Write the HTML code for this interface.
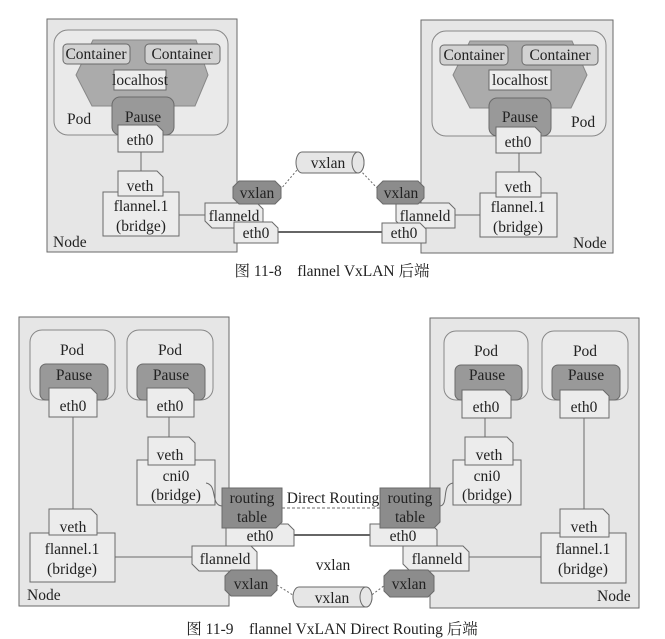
<!DOCTYPE html>
<html><head><meta charset="utf-8"><style>
html,body{margin:0;padding:0;background:#fff;}
svg{display:block;}
text{font-family:"Liberation Serif","Noto Serif CJK SC",serif;font-size:15.5px;fill:#222;}
</style></head><body>
<svg width="665" height="639" viewBox="0 0 665 639" xmlns="http://www.w3.org/2000/svg">
<g stroke="#6a6a6a" stroke-width="1">
<rect x="47" y="19" width="190" height="233" fill="#e6e6e6"/>
<rect x="54" y="30" width="174" height="105" rx="14" fill="#eaeaea" stroke="#888"/>
<polygon points="93,40 196,40 208,75 195,106 92,106 76,75" fill="#ababab" stroke="#888"/>
<rect x="63" y="44" width="67" height="20" rx="4" fill="#d2d2d2"/>
<rect x="145" y="44" width="75" height="20" rx="4" fill="#d2d2d2"/>
<rect x="114" y="70" width="52" height="20" fill="#ededed"/>
<rect x="112" y="97" width="62" height="38" rx="8" fill="#999"/>
<polygon points="118,125 157,125 163,131 163,152 118,152" fill="#ececec"/>
<line x1="141" y1="152" x2="141" y2="171"/>
<rect x="103" y="192" width="76" height="44" fill="#ececec"/>
<polygon points="118,171 157,171 163,177 163,196 118,196" fill="#ececec"/>
<line x1="179" y1="215" x2="205" y2="215"/>
<rect x="421" y="20" width="192" height="233" fill="#e6e6e6"/>
<rect x="432" y="31" width="174" height="105" rx="14" fill="#eaeaea" stroke="#888"/>
<polygon points="470,41 572,41 587,75 571,108 470,108 453,75" fill="#ababab" stroke="#888"/>
<rect x="440" y="45" width="68" height="20" rx="4" fill="#d2d2d2"/>
<rect x="522" y="45" width="76" height="20" rx="4" fill="#d2d2d2"/>
<rect x="489" y="70" width="62" height="20" fill="#ededed"/>
<rect x="489" y="98" width="62" height="38" rx="8" fill="#999"/>
<polygon points="496,127 535,127 541,133 541,153 496,153" fill="#ececec"/>
<line x1="519" y1="153" x2="519" y2="172"/>
<rect x="480" y="193" width="77" height="44" fill="#ececec"/>
<polygon points="496,172 535,172 541,178 541,197 496,197" fill="#ececec"/>
<line x1="455" y1="215" x2="480" y2="215"/>
<line x1="278" y1="232" x2="382" y2="232" stroke="#333" stroke-width="1.5"/>
<line x1="280" y1="190" x2="303" y2="163" stroke-dasharray="2,2"/>
<line x1="357" y1="167" x2="379" y2="190" stroke-dasharray="2,2"/>
<path d="M302,152 L358,152 A6,10.5 0 0 1 358,173 L302,173 A6,10.5 0 0 1 302,152 Z" fill="#e6e6e6"/>
<ellipse cx="358" cy="162.5" rx="6" ry="10.5" fill="#e6e6e6"/>
<polygon points="205,203 257,203 263,209 263,228 212,228 205,221" fill="#ececec"/>
<polygon points="239,181 275,181 281,187 281,198 275,204 239,204 233,198 233,187" fill="#8c8c8c"/>
<polygon points="234,222 272,222 278,228 278,243 234,243" fill="#ececec"/>
<polygon points="396,203 449,203 455,209 455,228 403,228 396,221" fill="#ececec"/>
<polygon points="383,181 418,181 424,187 424,198 418,204 383,204 377,198 377,187" fill="#8c8c8c"/>
<polygon points="382,223 420,223 426,229 426,243 382,243" fill="#ececec"/>

<rect x="19" y="317" width="210" height="289" fill="#e6e6e6"/>
<rect x="30" y="330" width="85" height="70" rx="12" fill="#eaeaea" stroke="#888"/>
<rect x="127" y="330" width="86" height="70" rx="12" fill="#eaeaea" stroke="#888"/>
<rect x="40" y="364" width="68" height="36" rx="6" fill="#999"/>
<rect x="137" y="364" width="68" height="36" rx="6" fill="#999"/>
<polygon points="49,388 91,388 97,394 97,417 49,417" fill="#ececec"/>
<polygon points="147,388 188,388 194,394 194,417 147,417" fill="#ececec"/>
<line x1="73" y1="417" x2="73" y2="510"/>
<line x1="169" y1="417" x2="169" y2="437"/>
<rect x="137" y="460" width="78" height="45" fill="#ececec"/>
<polygon points="148,437 189,437 195,443 195,465 148,465" fill="#ececec"/>
<rect x="30" y="533" width="85" height="49" fill="#ececec"/>
<polygon points="49,509 91,509 97,515 97,535 49,535" fill="#ececec"/>
<line x1="115" y1="557" x2="192" y2="557"/>
<path d="M206,483 C218,485 210,505 222,506" fill="none"/>

<rect x="430" y="318" width="209" height="290" fill="#e6e6e6"/>
<rect x="444" y="331" width="84" height="69" rx="12" fill="#eaeaea" stroke="#888"/>
<rect x="542" y="331" width="86" height="69" rx="12" fill="#eaeaea" stroke="#888"/>
<rect x="455" y="365" width="67" height="35" rx="6" fill="#999"/>
<rect x="552" y="365" width="68" height="35" rx="6" fill="#999"/>
<polygon points="462,390 505,390 511,396 511,418 462,418" fill="#ececec"/>
<polygon points="560,390 603,390 609,396 609,418 560,418" fill="#ececec"/>
<line x1="485" y1="418" x2="485" y2="437"/>
<line x1="584" y1="418" x2="584" y2="509"/>
<rect x="453" y="460" width="68" height="45" fill="#ececec"/>
<polygon points="465,437 507,437 513,443 513,465 465,465" fill="#ececec"/>
<rect x="541" y="533" width="85" height="50" fill="#ececec"/>
<polygon points="560,509 603,509 609,515 609,537 560,537" fill="#ececec"/>
<line x1="469" y1="557" x2="541" y2="557"/>
<path d="M453,483 C441,485 449,505 440,506" fill="none"/>

<line x1="282" y1="508" x2="380" y2="508" stroke-dasharray="3,2"/>
<line x1="294" y1="535" x2="370" y2="535" stroke="#333" stroke-width="1.5"/>
<line x1="277" y1="585" x2="296" y2="597" stroke-dasharray="2,2"/>
<line x1="369" y1="597" x2="385" y2="585" stroke-dasharray="2,2"/>
<path d="M299,587 L366,587 A6,10 0 0 1 366,607 L299,607 A6,10 0 0 1 299,587 Z" fill="#e6e6e6"/>
<ellipse cx="366" cy="597" rx="6" ry="10" fill="#e6e6e6"/>

<polygon points="226,524 288,524 294,530 294,546 226,546" fill="#ececec"/>
<polygon points="192,546 251,546 257,552 257,571 199,571 192,564" fill="#ececec"/>
<polygon points="231,570 271,570 277,576 277,590 271,596 231,596 225,590 225,576" fill="#8c8c8c"/>
<polygon points="222,488 282,488 282,522 276,528 222,528" fill="#8c8c8c"/>

<polygon points="370,524 431,524 437,530 437,546 370,546" fill="#ececec"/>
<polygon points="403,546 463,546 469,552 469,571 410,571 403,564" fill="#ececec"/>
<polygon points="390,570 428,570 434,576 434,591 428,597 390,597 384,591 384,576" fill="#8c8c8c"/>
<polygon points="380,488 440,488 440,522 434,528 380,528" fill="#8c8c8c"/>
</g>

<g text-anchor="middle">
<text x="96" y="59">Container</text>
<text x="182" y="59">Container</text>
<text x="140" y="85">localhost</text>
<text x="143" y="122">Pause</text>
<text x="140" y="145">eth0</text>
<text x="140" y="191">veth</text>
<text x="141" y="211">flannel.1</text>
<text x="141" y="231">(bridge)</text>
<text x="234" y="221">flanneld</text>
<text x="257" y="198">vxlan</text>
<text x="256" y="238">eth0</text>

<text x="474" y="60">Container</text>
<text x="560" y="60">Container</text>
<text x="520" y="85">localhost</text>
<text x="520" y="122">Pause</text>
<text x="518" y="147">eth0</text>
<text x="518" y="192">veth</text>
<text x="518" y="212">flannel.1</text>
<text x="518" y="232">(bridge)</text>
<text x="425" y="221">flanneld</text>
<text x="401" y="198">vxlan</text>
<text x="404" y="238">eth0</text>
<text x="328" y="168">vxlan</text>

<text x="72" y="355">Pod</text>
<text x="170" y="355">Pod</text>
<text x="74" y="380">Pause</text>
<text x="171" y="380">Pause</text>
<text x="73" y="411">eth0</text>
<text x="170" y="411">eth0</text>
<text x="170" y="460">veth</text>
<text x="176" y="481">cni0</text>
<text x="176" y="500">(bridge)</text>
<text x="73" y="532">veth</text>
<text x="72" y="554">flannel.1</text>
<text x="72" y="574">(bridge)</text>
<text x="252" y="503">routing</text>
<text x="252" y="522">table</text>
<text x="260" y="541">eth0</text>
<text x="225" y="564">flanneld</text>
<text x="251" y="589">vxlan</text>

<text x="486" y="356">Pod</text>
<text x="585" y="356">Pod</text>
<text x="487" y="380">Pause</text>
<text x="586" y="380">Pause</text>
<text x="486" y="412">eth0</text>
<text x="584" y="412">eth0</text>
<text x="489" y="460">veth</text>
<text x="487" y="481">cni0</text>
<text x="487" y="500">(bridge)</text>
<text x="584" y="532">veth</text>
<text x="583" y="554">flannel.1</text>
<text x="583" y="574">(bridge)</text>
<text x="410" y="503">routing</text>
<text x="410" y="522">table</text>
<text x="403" y="541">eth0</text>
<text x="437" y="564">flanneld</text>
<text x="409" y="589">vxlan</text>

<text x="333" y="503">Direct Routing</text>
<text x="333" y="570">vxlan</text>
<text x="332" y="603">vxlan</text>
</g>
<g>
<text x="67" y="124">Pod</text>
<text x="53" y="247">Node</text>
<text x="571" y="127">Pod</text>
<text x="573" y="248">Node</text>
<text x="27" y="600">Node</text>
<text x="597" y="601">Node</text>
</g>
<g text-anchor="middle">
<text x="332" y="276" style="font-size:15.5px">图 11-8　flannel VxLAN 后端</text>
<text x="332" y="634" style="font-size:15.5px">图 11-9　flannel VxLAN Direct Routing 后端</text>
</g>
</svg>
</body></html>
